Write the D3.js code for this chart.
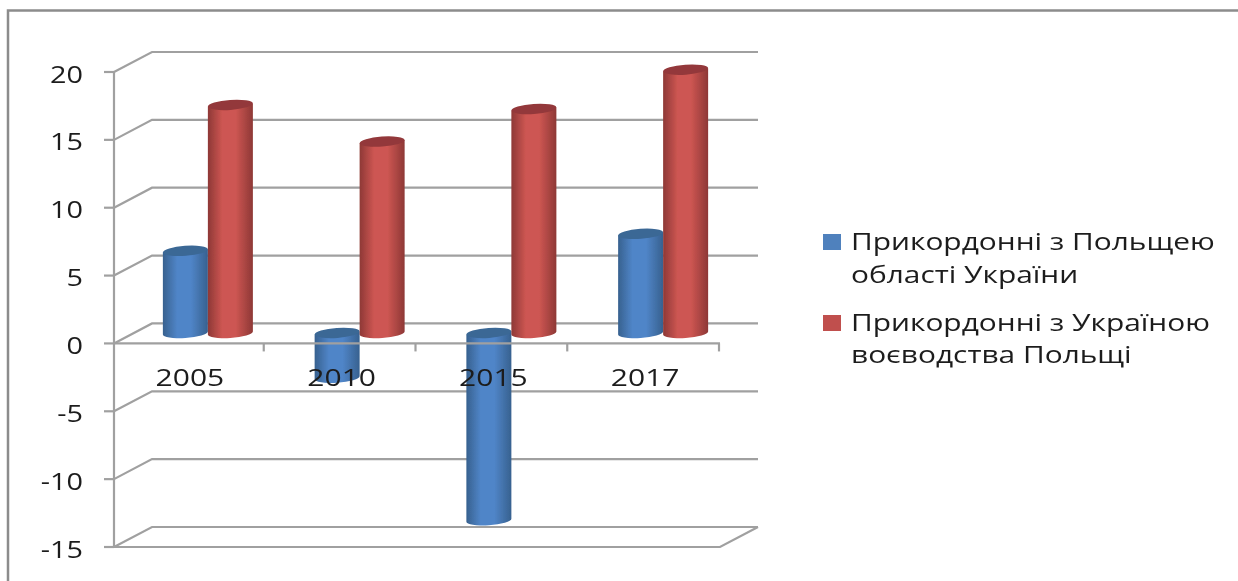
<!DOCTYPE html>
<html><head><meta charset="utf-8">
<script src="https://cdn.jsdelivr.net/npm/d3@7/dist/d3.min.js"></script>
<style>html,body{margin:0;background:#fff}svg{display:block}text{font-family:"Open Sans",sans-serif;fill:#1c1c1c}</style>
</head><body><svg id="c" width="1238" height="581"></svg>
<script>
const categories=["2005","2010","2015","2017"];
const seriesNames=[["Прикордонні з Польщею","області України"],["Прикордонні з Україною","воєводства Польщі"]];
const borderOblast=[6.05,-3.3,-13.8,7.3];
const borderVoivod=[16.8,14.1,16.5,19.4];
const yTicks=[20,15,10,5,0,-5,-10,-15];
const colors=["#4f81bd","#c0504d"];
const svg=d3.select("#c");
const defs=svg.append("defs");
defs.append("filter").attr("id","soft").attr("filterUnits","userSpaceOnUse").attr("x",0).attr("y",0).attr("width",1238).attr("height",581)
  .append("feGaussianBlur").attr("stdDeviation",0.6);
function grad(id,dark,mid){
  const g=defs.append("linearGradient").attr("id",id);
  [[0,dark],[.32,mid],[.62,mid],[1,dark]].forEach(s=>g.append("stop").attr("offset",s[0]).attr("stop-color",s[1]));
}
grad("g0","#37618f","#5085c8");
grad("g1","#8e3836","#cd5652");
const topCol=["#3a6795","#93393a"];
const root=svg.append("g").attr("filter","url(#soft)");
const y=d3.scaleLinear().domain([-15,20]).range([547,72]);
const x=d3.scaleBand().domain(categories).range([112,719]);
const dx=38,dy=-20,mx=19,my=-9,grid="#a0a0a0";
root.append("rect").attr("x",8).attr("y",10.5).attr("width",1260).attr("height",600).attr("fill","none").attr("stroke","#8c8c8c").attr("stroke-width",2.5);
const g=root.append("g").attr("fill","none").attr("stroke",grid).attr("stroke-width",2.2);
yTicks.forEach(t=>{
  const Y=y(t);
  g.append("path").attr("d",d3.line()([[114,Y],[114+dx,Y+dy],[758,Y+dy]]));
  g.append("line").attr("x1",104).attr("x2",114).attr("y1",Y).attr("y2",Y);
  root.append("text").attr("transform",`translate(83,${Y+10.5}) scale(1.2,1)`).attr("text-anchor","end").attr("font-size",24).text(t);
});
g.append("line").attr("x1",114).attr("x2",114).attr("y1",y(20)).attr("y2",y(-15));
g.append("path").attr("d",d3.line()([[114,y(-15)],[720,y(-15)],[758,y(-15)+dy]]));
categories.forEach(c=>{const X=x(c)+x.bandwidth();g.append("line").attr("x1",X).attr("x2",X).attr("y1",y(0)).attr("y2",y(0)+8);});
const rx=22.5,ry=5;
function cyl(cx,v,s){
  const yb=y(0)+my,yt=y(v)+my;
  const top=Math.min(yb,yt),bot=Math.max(yb,yt);
  const gg=root.append("g");
  gg.append("path").attr("d",`M${cx-rx},${top}L${cx+rx},${top-3}L${cx+rx},${bot-3}A${rx},${ry} -4 0 1 ${cx-rx},${bot}Z`).attr("fill",`url(#g${s})`);
  gg.append("ellipse").attr("cx",cx).attr("cy",top-1.5).attr("rx",rx).attr("ry",ry).attr("transform",`rotate(-4 ${cx} ${top-1.5})`).attr("fill",topCol[s]);
}
categories.forEach((c,i)=>{
  const X=x(c)+x.bandwidth()/2+mx+1;
  cyl(X-22.5,borderOblast[i],0);
  cyl(X+22.5,borderVoivod[i],1);
});
root.append("line").attr("x1",114).attr("x2",720).attr("y1",y(0)).attr("y2",y(0)).attr("stroke",grid).attr("stroke-width",2.2);
categories.forEach(c=>{root.append("text").attr("transform",`translate(${x(c)+x.bandwidth()/2+2},386) scale(1.25,1)`).attr("text-anchor","middle").attr("font-size",24).text(c);});
const ly=[[250,283],[331,363]];
seriesNames.forEach((n,i)=>{
  root.append("rect").attr("x",823).attr("y",ly[i][0]-16).attr("width",18).attr("height",16).attr("fill",colors[i]);
  n.forEach((t,j)=>root.append("text").attr("transform",`translate(851,${ly[i][j]}) scale(1.245,1)`).attr("font-size",24).text(t));
});
</script></body></html>
